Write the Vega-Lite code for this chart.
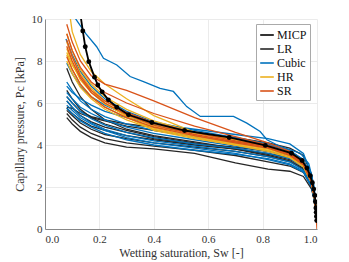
{
  "$schema": "https://vega.github.io/schema/vega-lite/v6.json",
  "autosize": {"type": "none"},
  "width": 272,
  "height": 210,
  "padding": {"left": 45, "top": 19, "right": 32, "bottom": 33},
  "background": "white",
  "config": {
    "view": {"stroke": null},
    "font": "Liberation Serif",
    "axis": {
      "labelFont": "Liberation Serif", "titleFont": "Liberation Serif",
      "labelFontSize": 11, "titleFontSize": 12, "titleFontWeight": "normal",
      "labelColor": "#333333", "titleColor": "#333333",
      "domainColor": "#888888", "gridColor": "#ebebeb", "ticks": false
    },
    "legend": {
      "labelFont": "Liberation Serif", "labelFontSize": 12, "labelColor": "#111111",
      "symbolType": "stroke", "symbolStrokeWidth": 1.6, "symbolSize": 185, "labelOffset": 2,
      "fillColor": "white", "strokeColor": "#aaaaaa", "padding": 3, "rowPadding": 0,
      "orient": "none", "legendX": 211, "legendY": 5, "title": null
    }
  },
  "data": {"values": [
    {"model":"LR","run":"L1","sw":0.08,"pc":7.65},{"model":"LR","run":"L1","sw":0.1,"pc":7.0},{"model":"LR","run":"L1","sw":0.13,"pc":6.3},{"model":"LR","run":"L1","sw":0.17,"pc":5.7},{"model":"LR","run":"L1","sw":0.22,"pc":5.2},{"model":"LR","run":"L1","sw":0.3,"pc":4.75},{"model":"LR","run":"L1","sw":0.4,"pc":4.45},{"model":"LR","run":"L1","sw":0.55,"pc":4.15},{"model":"LR","run":"L1","sw":0.7,"pc":3.85},{"model":"LR","run":"L1","sw":0.82,"pc":3.55},{"model":"LR","run":"L1","sw":0.9,"pc":3.3},{"model":"LR","run":"L1","sw":0.95,"pc":3.0},{"model":"LR","run":"L1","sw":0.98,"pc":2.3},{"model":"LR","run":"L1","sw":0.993,"pc":1.4},{"model":"LR","run":"L1","sw":1.0,"pc":0.4},
    {"model":"LR","run":"L2","sw":0.08,"pc":6.6},{"model":"LR","run":"L2","sw":0.1,"pc":6.2},{"model":"LR","run":"L2","sw":0.13,"pc":5.7},{"model":"LR","run":"L2","sw":0.17,"pc":5.3},{"model":"LR","run":"L2","sw":0.22,"pc":5.0},{"model":"LR","run":"L2","sw":0.3,"pc":4.7},{"model":"LR","run":"L2","sw":0.4,"pc":4.4},{"model":"LR","run":"L2","sw":0.55,"pc":4.1},{"model":"LR","run":"L2","sw":0.7,"pc":3.8},{"model":"LR","run":"L2","sw":0.82,"pc":3.5},{"model":"LR","run":"L2","sw":0.9,"pc":3.25},{"model":"LR","run":"L2","sw":0.95,"pc":2.9},{"model":"LR","run":"L2","sw":0.98,"pc":2.2},{"model":"LR","run":"L2","sw":0.993,"pc":1.3},{"model":"LR","run":"L2","sw":1.0,"pc":0.4},
    {"model":"LR","run":"L3","sw":0.08,"pc":6.1},{"model":"LR","run":"L3","sw":0.1,"pc":5.8},{"model":"LR","run":"L3","sw":0.13,"pc":5.4},{"model":"LR","run":"L3","sw":0.17,"pc":5.1},{"model":"LR","run":"L3","sw":0.22,"pc":4.85},{"model":"LR","run":"L3","sw":0.3,"pc":4.6},{"model":"LR","run":"L3","sw":0.4,"pc":4.3},{"model":"LR","run":"L3","sw":0.55,"pc":4.05},{"model":"LR","run":"L3","sw":0.7,"pc":3.9},{"model":"LR","run":"L3","sw":0.82,"pc":3.7},{"model":"LR","run":"L3","sw":0.9,"pc":3.5},{"model":"LR","run":"L3","sw":0.95,"pc":3.1},{"model":"LR","run":"L3","sw":0.98,"pc":2.3},{"model":"LR","run":"L3","sw":0.993,"pc":1.4},{"model":"LR","run":"L3","sw":1.0,"pc":0.4},
    {"model":"LR","run":"L4","sw":0.08,"pc":5.8},{"model":"LR","run":"L4","sw":0.1,"pc":5.75},{"model":"LR","run":"L4","sw":0.13,"pc":5.5},{"model":"LR","run":"L4","sw":0.17,"pc":5.3},{"model":"LR","run":"L4","sw":0.22,"pc":5.15},{"model":"LR","run":"L4","sw":0.3,"pc":4.9},{"model":"LR","run":"L4","sw":0.4,"pc":4.7},{"model":"LR","run":"L4","sw":0.55,"pc":4.4},{"model":"LR","run":"L4","sw":0.7,"pc":4.15},{"model":"LR","run":"L4","sw":0.82,"pc":3.95},{"model":"LR","run":"L4","sw":0.9,"pc":3.7},{"model":"LR","run":"L4","sw":0.95,"pc":3.3},{"model":"LR","run":"L4","sw":0.98,"pc":2.4},{"model":"LR","run":"L4","sw":0.993,"pc":1.5},{"model":"LR","run":"L4","sw":1.0,"pc":0.4},
    {"model":"LR","run":"L5","sw":0.08,"pc":5.65},{"model":"LR","run":"L5","sw":0.1,"pc":5.4},{"model":"LR","run":"L5","sw":0.13,"pc":5.05},{"model":"LR","run":"L5","sw":0.17,"pc":4.75},{"model":"LR","run":"L5","sw":0.22,"pc":4.5},{"model":"LR","run":"L5","sw":0.3,"pc":4.3},{"model":"LR","run":"L5","sw":0.4,"pc":4.1},{"model":"LR","run":"L5","sw":0.55,"pc":3.9},{"model":"LR","run":"L5","sw":0.7,"pc":3.7},{"model":"LR","run":"L5","sw":0.82,"pc":3.45},{"model":"LR","run":"L5","sw":0.9,"pc":3.2},{"model":"LR","run":"L5","sw":0.95,"pc":2.85},{"model":"LR","run":"L5","sw":0.98,"pc":2.1},{"model":"LR","run":"L5","sw":0.993,"pc":1.3},{"model":"LR","run":"L5","sw":1.0,"pc":0.4},
    {"model":"LR","run":"L6","sw":0.08,"pc":5.5},{"model":"LR","run":"L6","sw":0.1,"pc":5.2},{"model":"LR","run":"L6","sw":0.13,"pc":4.85},{"model":"LR","run":"L6","sw":0.17,"pc":4.55},{"model":"LR","run":"L6","sw":0.22,"pc":4.3},{"model":"LR","run":"L6","sw":0.3,"pc":4.1},{"model":"LR","run":"L6","sw":0.4,"pc":3.95},{"model":"LR","run":"L6","sw":0.55,"pc":3.75},{"model":"LR","run":"L6","sw":0.7,"pc":3.5},{"model":"LR","run":"L6","sw":0.82,"pc":3.2},{"model":"LR","run":"L6","sw":0.9,"pc":3.0},{"model":"LR","run":"L6","sw":0.95,"pc":2.7},{"model":"LR","run":"L6","sw":0.98,"pc":2.0},{"model":"LR","run":"L6","sw":0.993,"pc":1.2},{"model":"LR","run":"L6","sw":1.0,"pc":0.4},
    {"model":"LR","run":"L7","sw":0.08,"pc":5.3},{"model":"LR","run":"L7","sw":0.1,"pc":5.0},{"model":"LR","run":"L7","sw":0.13,"pc":4.65},{"model":"LR","run":"L7","sw":0.17,"pc":4.35},{"model":"LR","run":"L7","sw":0.22,"pc":4.1},{"model":"LR","run":"L7","sw":0.3,"pc":3.9},{"model":"LR","run":"L7","sw":0.4,"pc":3.82},{"model":"LR","run":"L7","sw":0.55,"pc":3.6},{"model":"LR","run":"L7","sw":0.7,"pc":3.15},{"model":"LR","run":"L7","sw":0.82,"pc":2.85},{"model":"LR","run":"L7","sw":0.9,"pc":2.75},{"model":"LR","run":"L7","sw":0.95,"pc":2.5},{"model":"LR","run":"L7","sw":0.98,"pc":1.9},{"model":"LR","run":"L7","sw":0.993,"pc":1.2},{"model":"LR","run":"L7","sw":1.0,"pc":0.4},
    {"model":"LR","run":"L8","sw":0.08,"pc":5.75},{"model":"LR","run":"L8","sw":0.1,"pc":5.5},{"model":"LR","run":"L8","sw":0.13,"pc":5.2},{"model":"LR","run":"L8","sw":0.17,"pc":4.9},{"model":"LR","run":"L8","sw":0.22,"pc":4.7},{"model":"LR","run":"L8","sw":0.3,"pc":4.45},{"model":"LR","run":"L8","sw":0.4,"pc":4.25},{"model":"LR","run":"L8","sw":0.55,"pc":4.0},{"model":"LR","run":"L8","sw":0.7,"pc":3.8},{"model":"LR","run":"L8","sw":0.82,"pc":3.6},{"model":"LR","run":"L8","sw":0.9,"pc":3.4},{"model":"LR","run":"L8","sw":0.95,"pc":3.05},{"model":"LR","run":"L8","sw":0.98,"pc":2.25},{"model":"LR","run":"L8","sw":0.993,"pc":1.4},{"model":"LR","run":"L8","sw":1.0,"pc":0.4},
    {"model":"LR","run":"L9","sw":0.08,"pc":6.3},{"model":"LR","run":"L9","sw":0.1,"pc":6.0},{"model":"LR","run":"L9","sw":0.13,"pc":5.6},{"model":"LR","run":"L9","sw":0.17,"pc":5.35},{"model":"LR","run":"L9","sw":0.22,"pc":5.2},{"model":"LR","run":"L9","sw":0.3,"pc":5.0},{"model":"LR","run":"L9","sw":0.4,"pc":4.85},{"model":"LR","run":"L9","sw":0.55,"pc":4.6},{"model":"LR","run":"L9","sw":0.7,"pc":4.35},{"model":"LR","run":"L9","sw":0.82,"pc":4.1},{"model":"LR","run":"L9","sw":0.9,"pc":3.85},{"model":"LR","run":"L9","sw":0.95,"pc":3.5},{"model":"LR","run":"L9","sw":0.98,"pc":2.6},{"model":"LR","run":"L9","sw":0.993,"pc":1.5},{"model":"LR","run":"L9","sw":1.0,"pc":0.4},
    {"model":"Cubic","run":"C1","sw":0.105,"pc":10.6},{"model":"Cubic","run":"C1","sw":0.113,"pc":10.0},{"model":"Cubic","run":"C1","sw":0.15,"pc":9.3},{"model":"Cubic","run":"C1","sw":0.19,"pc":8.68},{"model":"Cubic","run":"C1","sw":0.215,"pc":8.13},{"model":"Cubic","run":"C1","sw":0.264,"pc":7.81},{"model":"Cubic","run":"C1","sw":0.313,"pc":7.26},{"model":"Cubic","run":"C1","sw":0.362,"pc":7.02},{"model":"Cubic","run":"C1","sw":0.423,"pc":6.7},{"model":"Cubic","run":"C1","sw":0.472,"pc":6.55},{"model":"Cubic","run":"C1","sw":0.521,"pc":5.83},{"model":"Cubic","run":"C1","sw":0.571,"pc":5.36},{"model":"Cubic","run":"C1","sw":0.693,"pc":5.36},{"model":"Cubic","run":"C1","sw":0.742,"pc":5.04},{"model":"Cubic","run":"C1","sw":0.791,"pc":4.64},{"model":"Cubic","run":"C1","sw":0.816,"pc":4.25},{"model":"Cubic","run":"C1","sw":0.865,"pc":3.93},{"model":"Cubic","run":"C1","sw":0.939,"pc":3.61},{"model":"Cubic","run":"C1","sw":0.97,"pc":3.1},{"model":"Cubic","run":"C1","sw":0.99,"pc":2.0},{"model":"Cubic","run":"C1","sw":1.0,"pc":0.4},
    {"model":"Cubic","run":"C2","sw":0.077,"pc":9.05},{"model":"Cubic","run":"C2","sw":0.1,"pc":8.3},{"model":"Cubic","run":"C2","sw":0.13,"pc":7.5},{"model":"Cubic","run":"C2","sw":0.17,"pc":6.8},{"model":"Cubic","run":"C2","sw":0.22,"pc":6.2},{"model":"Cubic","run":"C2","sw":0.3,"pc":5.6},{"model":"Cubic","run":"C2","sw":0.4,"pc":5.1},{"model":"Cubic","run":"C2","sw":0.55,"pc":4.7},{"model":"Cubic","run":"C2","sw":0.7,"pc":4.35},{"model":"Cubic","run":"C2","sw":0.82,"pc":4.05},{"model":"Cubic","run":"C2","sw":0.9,"pc":3.75},{"model":"Cubic","run":"C2","sw":0.95,"pc":3.3},{"model":"Cubic","run":"C2","sw":0.98,"pc":2.4},{"model":"Cubic","run":"C2","sw":0.993,"pc":1.4},{"model":"Cubic","run":"C2","sw":1.0,"pc":0.4},
    {"model":"Cubic","run":"C3","sw":0.08,"pc":7.9},{"model":"Cubic","run":"C3","sw":0.1,"pc":7.4},{"model":"Cubic","run":"C3","sw":0.13,"pc":6.8},{"model":"Cubic","run":"C3","sw":0.17,"pc":6.3},{"model":"Cubic","run":"C3","sw":0.22,"pc":5.9},{"model":"Cubic","run":"C3","sw":0.3,"pc":5.45},{"model":"Cubic","run":"C3","sw":0.4,"pc":5.0},{"model":"Cubic","run":"C3","sw":0.55,"pc":4.6},{"model":"Cubic","run":"C3","sw":0.7,"pc":4.3},{"model":"Cubic","run":"C3","sw":0.82,"pc":4.0},{"model":"Cubic","run":"C3","sw":0.9,"pc":3.7},{"model":"Cubic","run":"C3","sw":0.95,"pc":3.25},{"model":"Cubic","run":"C3","sw":0.98,"pc":2.35},{"model":"Cubic","run":"C3","sw":0.993,"pc":1.4},{"model":"Cubic","run":"C3","sw":1.0,"pc":0.4},
    {"model":"Cubic","run":"C4","sw":0.08,"pc":7.0},{"model":"Cubic","run":"C4","sw":0.1,"pc":6.6},{"model":"Cubic","run":"C4","sw":0.13,"pc":6.1},{"model":"Cubic","run":"C4","sw":0.17,"pc":5.7},{"model":"Cubic","run":"C4","sw":0.22,"pc":5.35},{"model":"Cubic","run":"C4","sw":0.3,"pc":5.0},{"model":"Cubic","run":"C4","sw":0.4,"pc":4.7},{"model":"Cubic","run":"C4","sw":0.55,"pc":4.4},{"model":"Cubic","run":"C4","sw":0.7,"pc":4.1},{"model":"Cubic","run":"C4","sw":0.82,"pc":3.85},{"model":"Cubic","run":"C4","sw":0.9,"pc":3.55},{"model":"Cubic","run":"C4","sw":0.95,"pc":3.1},{"model":"Cubic","run":"C4","sw":0.98,"pc":2.3},{"model":"Cubic","run":"C4","sw":0.993,"pc":1.4},{"model":"Cubic","run":"C4","sw":1.0,"pc":0.4},
    {"model":"Cubic","run":"C5","sw":0.08,"pc":6.5},{"model":"Cubic","run":"C5","sw":0.1,"pc":6.2},{"model":"Cubic","run":"C5","sw":0.13,"pc":5.8},{"model":"Cubic","run":"C5","sw":0.17,"pc":5.5},{"model":"Cubic","run":"C5","sw":0.22,"pc":5.2},{"model":"Cubic","run":"C5","sw":0.3,"pc":4.85},{"model":"Cubic","run":"C5","sw":0.4,"pc":4.55},{"model":"Cubic","run":"C5","sw":0.55,"pc":4.25},{"model":"Cubic","run":"C5","sw":0.7,"pc":3.95},{"model":"Cubic","run":"C5","sw":0.82,"pc":3.7},{"model":"Cubic","run":"C5","sw":0.9,"pc":3.45},{"model":"Cubic","run":"C5","sw":0.95,"pc":3.0},{"model":"Cubic","run":"C5","sw":0.98,"pc":2.2},{"model":"Cubic","run":"C5","sw":0.993,"pc":1.3},{"model":"Cubic","run":"C5","sw":1.0,"pc":0.4},
    {"model":"Cubic","run":"C6","sw":0.08,"pc":6.1},{"model":"Cubic","run":"C6","sw":0.1,"pc":5.8},{"model":"Cubic","run":"C6","sw":0.13,"pc":5.4},{"model":"Cubic","run":"C6","sw":0.17,"pc":5.05},{"model":"Cubic","run":"C6","sw":0.22,"pc":4.75},{"model":"Cubic","run":"C6","sw":0.3,"pc":4.45},{"model":"Cubic","run":"C6","sw":0.4,"pc":4.2},{"model":"Cubic","run":"C6","sw":0.55,"pc":3.95},{"model":"Cubic","run":"C6","sw":0.7,"pc":3.7},{"model":"Cubic","run":"C6","sw":0.82,"pc":3.45},{"model":"Cubic","run":"C6","sw":0.9,"pc":3.2},{"model":"Cubic","run":"C6","sw":0.95,"pc":2.8},{"model":"Cubic","run":"C6","sw":0.98,"pc":2.1},{"model":"Cubic","run":"C6","sw":0.993,"pc":1.3},{"model":"Cubic","run":"C6","sw":1.0,"pc":0.4},
    {"model":"Cubic","run":"C7","sw":0.08,"pc":5.75},{"model":"Cubic","run":"C7","sw":0.1,"pc":5.5},{"model":"Cubic","run":"C7","sw":0.13,"pc":5.15},{"model":"Cubic","run":"C7","sw":0.17,"pc":4.85},{"model":"Cubic","run":"C7","sw":0.22,"pc":4.55},{"model":"Cubic","run":"C7","sw":0.3,"pc":4.25},{"model":"Cubic","run":"C7","sw":0.4,"pc":4.0},{"model":"Cubic","run":"C7","sw":0.55,"pc":3.75},{"model":"Cubic","run":"C7","sw":0.7,"pc":3.55},{"model":"Cubic","run":"C7","sw":0.82,"pc":3.35},{"model":"Cubic","run":"C7","sw":0.9,"pc":3.1},{"model":"Cubic","run":"C7","sw":0.95,"pc":2.75},{"model":"Cubic","run":"C7","sw":0.98,"pc":2.0},{"model":"Cubic","run":"C7","sw":0.993,"pc":1.2},{"model":"Cubic","run":"C7","sw":1.0,"pc":0.4},
    {"model":"Cubic","run":"C8","sw":0.08,"pc":6.8},{"model":"Cubic","run":"C8","sw":0.1,"pc":6.5},{"model":"Cubic","run":"C8","sw":0.13,"pc":6.2},{"model":"Cubic","run":"C8","sw":0.17,"pc":5.9},{"model":"Cubic","run":"C8","sw":0.22,"pc":5.6},{"model":"Cubic","run":"C8","sw":0.3,"pc":5.3},{"model":"Cubic","run":"C8","sw":0.4,"pc":5.0},{"model":"Cubic","run":"C8","sw":0.55,"pc":4.75},{"model":"Cubic","run":"C8","sw":0.7,"pc":4.5},{"model":"Cubic","run":"C8","sw":0.82,"pc":4.3},{"model":"Cubic","run":"C8","sw":0.9,"pc":4.05},{"model":"Cubic","run":"C8","sw":0.95,"pc":3.6},{"model":"Cubic","run":"C8","sw":0.98,"pc":2.6},{"model":"Cubic","run":"C8","sw":0.993,"pc":1.5},{"model":"Cubic","run":"C8","sw":1.0,"pc":0.4},
    {"model":"Cubic","run":"C9","sw":0.08,"pc":6.3},{"model":"Cubic","run":"C9","sw":0.1,"pc":6.0},{"model":"Cubic","run":"C9","sw":0.13,"pc":5.6},{"model":"Cubic","run":"C9","sw":0.17,"pc":5.25},{"model":"Cubic","run":"C9","sw":0.22,"pc":4.95},{"model":"Cubic","run":"C9","sw":0.3,"pc":4.6},{"model":"Cubic","run":"C9","sw":0.4,"pc":4.35},{"model":"Cubic","run":"C9","sw":0.55,"pc":4.05},{"model":"Cubic","run":"C9","sw":0.7,"pc":3.85},{"model":"Cubic","run":"C9","sw":0.82,"pc":3.6},{"model":"Cubic","run":"C9","sw":0.9,"pc":3.35},{"model":"Cubic","run":"C9","sw":0.95,"pc":2.95},{"model":"Cubic","run":"C9","sw":0.98,"pc":2.15},{"model":"Cubic","run":"C9","sw":0.993,"pc":1.3},{"model":"Cubic","run":"C9","sw":1.0,"pc":0.4},
    {"model":"Cubic","run":"C10","sw":0.08,"pc":5.9},{"model":"Cubic","run":"C10","sw":0.1,"pc":5.65},{"model":"Cubic","run":"C10","sw":0.13,"pc":5.3},{"model":"Cubic","run":"C10","sw":0.17,"pc":5.0},{"model":"Cubic","run":"C10","sw":0.22,"pc":4.7},{"model":"Cubic","run":"C10","sw":0.3,"pc":4.35},{"model":"Cubic","run":"C10","sw":0.4,"pc":4.1},{"model":"Cubic","run":"C10","sw":0.55,"pc":3.85},{"model":"Cubic","run":"C10","sw":0.7,"pc":3.6},{"model":"Cubic","run":"C10","sw":0.82,"pc":3.3},{"model":"Cubic","run":"C10","sw":0.9,"pc":3.05},{"model":"Cubic","run":"C10","sw":0.95,"pc":2.7},{"model":"Cubic","run":"C10","sw":0.98,"pc":2.0},{"model":"Cubic","run":"C10","sw":0.993,"pc":1.2},{"model":"Cubic","run":"C10","sw":1.0,"pc":0.4},
    {"model":"HR","run":"H1","sw":0.088,"pc":10.5},{"model":"HR","run":"H1","sw":0.1,"pc":9.4},{"model":"HR","run":"H1","sw":0.13,"pc":8.3},{"model":"HR","run":"H1","sw":0.17,"pc":7.5},{"model":"HR","run":"H1","sw":0.22,"pc":6.9},{"model":"HR","run":"H1","sw":0.3,"pc":6.2},{"model":"HR","run":"H1","sw":0.4,"pc":5.4},{"model":"HR","run":"H1","sw":0.55,"pc":4.6},{"model":"HR","run":"H1","sw":0.7,"pc":4.2},{"model":"HR","run":"H1","sw":0.82,"pc":3.9},{"model":"HR","run":"H1","sw":0.9,"pc":3.5},{"model":"HR","run":"H1","sw":0.95,"pc":3.0},{"model":"HR","run":"H1","sw":0.98,"pc":2.2},{"model":"HR","run":"H1","sw":0.993,"pc":1.4},{"model":"HR","run":"H1","sw":1.0,"pc":0.4},
    {"model":"HR","run":"H2","sw":0.08,"pc":8.9},{"model":"HR","run":"H2","sw":0.1,"pc":8.2},{"model":"HR","run":"H2","sw":0.13,"pc":7.4},{"model":"HR","run":"H2","sw":0.17,"pc":6.7},{"model":"HR","run":"H2","sw":0.22,"pc":6.1},{"model":"HR","run":"H2","sw":0.3,"pc":5.5},{"model":"HR","run":"H2","sw":0.4,"pc":5.0},{"model":"HR","run":"H2","sw":0.55,"pc":4.55},{"model":"HR","run":"H2","sw":0.7,"pc":4.2},{"model":"HR","run":"H2","sw":0.82,"pc":3.9},{"model":"HR","run":"H2","sw":0.9,"pc":3.6},{"model":"HR","run":"H2","sw":0.95,"pc":3.15},{"model":"HR","run":"H2","sw":0.98,"pc":2.3},{"model":"HR","run":"H2","sw":0.993,"pc":1.4},{"model":"HR","run":"H2","sw":1.0,"pc":0.4},
    {"model":"HR","run":"H3","sw":0.08,"pc":8.6},{"model":"HR","run":"H3","sw":0.1,"pc":7.9},{"model":"HR","run":"H3","sw":0.13,"pc":7.1},{"model":"HR","run":"H3","sw":0.17,"pc":6.5},{"model":"HR","run":"H3","sw":0.22,"pc":5.95},{"model":"HR","run":"H3","sw":0.3,"pc":5.4},{"model":"HR","run":"H3","sw":0.4,"pc":4.9},{"model":"HR","run":"H3","sw":0.55,"pc":4.45},{"model":"HR","run":"H3","sw":0.7,"pc":4.1},{"model":"HR","run":"H3","sw":0.82,"pc":3.85},{"model":"HR","run":"H3","sw":0.9,"pc":3.55},{"model":"HR","run":"H3","sw":0.95,"pc":3.1},{"model":"HR","run":"H3","sw":0.98,"pc":2.3},{"model":"HR","run":"H3","sw":0.993,"pc":1.4},{"model":"HR","run":"H3","sw":1.0,"pc":0.4},
    {"model":"HR","run":"H4","sw":0.08,"pc":8.3},{"model":"HR","run":"H4","sw":0.1,"pc":7.6},{"model":"HR","run":"H4","sw":0.13,"pc":6.9},{"model":"HR","run":"H4","sw":0.17,"pc":6.3},{"model":"HR","run":"H4","sw":0.22,"pc":5.8},{"model":"HR","run":"H4","sw":0.3,"pc":5.3},{"model":"HR","run":"H4","sw":0.4,"pc":4.8},{"model":"HR","run":"H4","sw":0.55,"pc":4.4},{"model":"HR","run":"H4","sw":0.7,"pc":4.05},{"model":"HR","run":"H4","sw":0.82,"pc":3.8},{"model":"HR","run":"H4","sw":0.9,"pc":3.5},{"model":"HR","run":"H4","sw":0.95,"pc":3.05},{"model":"HR","run":"H4","sw":0.98,"pc":2.25},{"model":"HR","run":"H4","sw":0.993,"pc":1.3},{"model":"HR","run":"H4","sw":1.0,"pc":0.4},
    {"model":"HR","run":"H5","sw":0.08,"pc":8.0},{"model":"HR","run":"H5","sw":0.1,"pc":7.4},{"model":"HR","run":"H5","sw":0.13,"pc":6.75},{"model":"HR","run":"H5","sw":0.17,"pc":6.2},{"model":"HR","run":"H5","sw":0.22,"pc":5.7},{"model":"HR","run":"H5","sw":0.3,"pc":5.2},{"model":"HR","run":"H5","sw":0.4,"pc":4.75},{"model":"HR","run":"H5","sw":0.55,"pc":4.35},{"model":"HR","run":"H5","sw":0.7,"pc":4.0},{"model":"HR","run":"H5","sw":0.82,"pc":3.75},{"model":"HR","run":"H5","sw":0.9,"pc":3.45},{"model":"HR","run":"H5","sw":0.95,"pc":3.0},{"model":"HR","run":"H5","sw":0.98,"pc":2.2},{"model":"HR","run":"H5","sw":0.993,"pc":1.3},{"model":"HR","run":"H5","sw":1.0,"pc":0.4},
    {"model":"HR","run":"H6","sw":0.08,"pc":9.3},{"model":"HR","run":"H6","sw":0.1,"pc":8.5},{"model":"HR","run":"H6","sw":0.13,"pc":7.6},{"model":"HR","run":"H6","sw":0.17,"pc":6.9},{"model":"HR","run":"H6","sw":0.22,"pc":6.3},{"model":"HR","run":"H6","sw":0.3,"pc":5.7},{"model":"HR","run":"H6","sw":0.4,"pc":5.15},{"model":"HR","run":"H6","sw":0.55,"pc":4.6},{"model":"HR","run":"H6","sw":0.7,"pc":4.25},{"model":"HR","run":"H6","sw":0.82,"pc":3.95},{"model":"HR","run":"H6","sw":0.9,"pc":3.65},{"model":"HR","run":"H6","sw":0.95,"pc":3.2},{"model":"HR","run":"H6","sw":0.98,"pc":2.35},{"model":"HR","run":"H6","sw":0.993,"pc":1.4},{"model":"HR","run":"H6","sw":1.0,"pc":0.4},
    {"model":"HR","run":"H7","sw":0.08,"pc":8.4},{"model":"HR","run":"H7","sw":0.1,"pc":7.8},{"model":"HR","run":"H7","sw":0.13,"pc":7.2},{"model":"HR","run":"H7","sw":0.17,"pc":6.6},{"model":"HR","run":"H7","sw":0.22,"pc":6.0},{"model":"HR","run":"H7","sw":0.3,"pc":5.35},{"model":"HR","run":"H7","sw":0.4,"pc":4.7},{"model":"HR","run":"H7","sw":0.55,"pc":4.3},{"model":"HR","run":"H7","sw":0.7,"pc":4.0},{"model":"HR","run":"H7","sw":0.82,"pc":3.7},{"model":"HR","run":"H7","sw":0.9,"pc":3.4},{"model":"HR","run":"H7","sw":0.95,"pc":2.95},{"model":"HR","run":"H7","sw":0.98,"pc":2.2},{"model":"HR","run":"H7","sw":0.993,"pc":1.3},{"model":"HR","run":"H7","sw":1.0,"pc":0.4},
    {"model":"SR","run":"S1","sw":0.08,"pc":9.75},{"model":"SR","run":"S1","sw":0.1,"pc":8.9},{"model":"SR","run":"S1","sw":0.13,"pc":8.0},{"model":"SR","run":"S1","sw":0.17,"pc":7.3},{"model":"SR","run":"S1","sw":0.22,"pc":6.9},{"model":"SR","run":"S1","sw":0.3,"pc":6.6},{"model":"SR","run":"S1","sw":0.4,"pc":6.1},{"model":"SR","run":"S1","sw":0.55,"pc":5.3},{"model":"SR","run":"S1","sw":0.7,"pc":4.6},{"model":"SR","run":"S1","sw":0.82,"pc":4.1},{"model":"SR","run":"S1","sw":0.9,"pc":3.7},{"model":"SR","run":"S1","sw":0.95,"pc":3.2},{"model":"SR","run":"S1","sw":0.98,"pc":2.3},{"model":"SR","run":"S1","sw":0.993,"pc":1.4},{"model":"SR","run":"S1","sw":1.0,"pc":0.4},
    {"model":"SR","run":"S2","sw":0.08,"pc":9.3},{"model":"SR","run":"S2","sw":0.1,"pc":8.5},{"model":"SR","run":"S2","sw":0.13,"pc":7.7},{"model":"SR","run":"S2","sw":0.17,"pc":7.0},{"model":"SR","run":"S2","sw":0.22,"pc":6.5},{"model":"SR","run":"S2","sw":0.3,"pc":6.0},{"model":"SR","run":"S2","sw":0.4,"pc":5.5},{"model":"SR","run":"S2","sw":0.55,"pc":4.9},{"model":"SR","run":"S2","sw":0.7,"pc":4.4},{"model":"SR","run":"S2","sw":0.82,"pc":4.0},{"model":"SR","run":"S2","sw":0.9,"pc":3.6},{"model":"SR","run":"S2","sw":0.95,"pc":3.1},{"model":"SR","run":"S2","sw":0.98,"pc":2.3},{"model":"SR","run":"S2","sw":0.993,"pc":1.4},{"model":"SR","run":"S2","sw":1.0,"pc":0.4},
    {"model":"SR","run":"S3","sw":0.08,"pc":8.7},{"model":"SR","run":"S3","sw":0.1,"pc":8.0},{"model":"SR","run":"S3","sw":0.13,"pc":7.2},{"model":"SR","run":"S3","sw":0.17,"pc":6.5},{"model":"SR","run":"S3","sw":0.22,"pc":6.0},{"model":"SR","run":"S3","sw":0.3,"pc":5.45},{"model":"SR","run":"S3","sw":0.4,"pc":4.95},{"model":"SR","run":"S3","sw":0.55,"pc":4.5},{"model":"SR","run":"S3","sw":0.7,"pc":4.15},{"model":"SR","run":"S3","sw":0.82,"pc":3.9},{"model":"SR","run":"S3","sw":0.9,"pc":3.55},{"model":"SR","run":"S3","sw":0.95,"pc":3.1},{"model":"SR","run":"S3","sw":0.98,"pc":2.25},{"model":"SR","run":"S3","sw":0.993,"pc":1.3},{"model":"SR","run":"S3","sw":1.0,"pc":0.4},
    {"model":"SR","run":"S4","sw":0.08,"pc":8.2},{"model":"SR","run":"S4","sw":0.1,"pc":7.6},{"model":"SR","run":"S4","sw":0.13,"pc":6.9},{"model":"SR","run":"S4","sw":0.17,"pc":6.3},{"model":"SR","run":"S4","sw":0.22,"pc":5.8},{"model":"SR","run":"S4","sw":0.3,"pc":5.3},{"model":"SR","run":"S4","sw":0.4,"pc":4.85},{"model":"SR","run":"S4","sw":0.55,"pc":4.45},{"model":"SR","run":"S4","sw":0.7,"pc":4.1},{"model":"SR","run":"S4","sw":0.82,"pc":3.85},{"model":"SR","run":"S4","sw":0.9,"pc":3.5},{"model":"SR","run":"S4","sw":0.95,"pc":3.05},{"model":"SR","run":"S4","sw":0.98,"pc":2.2},{"model":"SR","run":"S4","sw":0.993,"pc":1.3},{"model":"SR","run":"S4","sw":1.0,"pc":0.4},
    {"model":"SR","run":"S5","sw":0.08,"pc":9.0},{"model":"SR","run":"S5","sw":0.1,"pc":8.2},{"model":"SR","run":"S5","sw":0.13,"pc":7.3},{"model":"SR","run":"S5","sw":0.17,"pc":6.6},{"model":"SR","run":"S5","sw":0.22,"pc":6.1},{"model":"SR","run":"S5","sw":0.3,"pc":5.55},{"model":"SR","run":"S5","sw":0.4,"pc":5.05},{"model":"SR","run":"S5","sw":0.55,"pc":4.6},{"model":"SR","run":"S5","sw":0.7,"pc":4.2},{"model":"SR","run":"S5","sw":0.82,"pc":3.95},{"model":"SR","run":"S5","sw":0.9,"pc":3.6},{"model":"SR","run":"S5","sw":0.95,"pc":3.15},{"model":"SR","run":"S5","sw":0.98,"pc":2.3},{"model":"SR","run":"S5","sw":0.993,"pc":1.3},{"model":"SR","run":"S5","sw":1.0,"pc":0.0},
    {"model":"MICP","run":"M","sw":0.127,"pc":10.5},{"model":"MICP","run":"M","sw":0.139,"pc":9.43},{"model":"MICP","run":"M","sw":0.148,"pc":8.68},{"model":"MICP","run":"M","sw":0.161,"pc":7.97},{"model":"MICP","run":"M","sw":0.182,"pc":7.23},{"model":"MICP","run":"M","sw":0.194,"pc":6.86},{"model":"MICP","run":"M","sw":0.21,"pc":6.53},{"model":"MICP","run":"M","sw":0.233,"pc":6.15},{"model":"MICP","run":"M","sw":0.264,"pc":5.8},{"model":"MICP","run":"M","sw":0.307,"pc":5.44},{"model":"MICP","run":"M","sw":0.393,"pc":5.07},{"model":"MICP","run":"M","sw":0.513,"pc":4.69},{"model":"MICP","run":"M","sw":0.677,"pc":4.36},{"model":"MICP","run":"M","sw":0.81,"pc":3.98},{"model":"MICP","run":"M","sw":0.906,"pc":3.61},{"model":"MICP","run":"M","sw":0.945,"pc":3.26},{"model":"MICP","run":"M","sw":0.963,"pc":2.9},{"model":"MICP","run":"M","sw":0.975,"pc":2.54},{"model":"MICP","run":"M","sw":0.983,"pc":2.2},{"model":"MICP","run":"M","sw":0.988,"pc":1.9},{"model":"MICP","run":"M","sw":0.992,"pc":1.6},{"model":"MICP","run":"M","sw":0.994,"pc":1.3},{"model":"MICP","run":"M","sw":0.996,"pc":1.0},{"model":"MICP","run":"M","sw":0.997,"pc":0.8},{"model":"MICP","run":"M","sw":0.998,"pc":0.6},{"model":"MICP","run":"M","sw":0.999,"pc":0.4}
  ]},
  "encoding": {
    "x": {"field": "sw", "type": "quantitative", "scale": {"domain": [0, 1], "nice": false},
      "axis": {"values": [0, 0.2, 0.4, 0.6, 0.8, 1], "format": ".1f", "title": "Wetting saturation, Sw [-]", "labelPadding": 4, "titlePadding": 3}},
    "y": {"field": "pc", "type": "quantitative", "scale": {"domain": [0, 10], "nice": false},
      "axis": {"values": [0, 2, 4, 6, 8, 10], "title": "Capillary pressure, Pc [kPa]", "labelPadding": 3, "titlePadding": 5}},
    "color": {"field": "model", "type": "nominal",
      "scale": {"domain": ["MICP", "LR", "Cubic", "HR", "SR"], "range": ["#000000", "#262626", "#0072BD", "#EDB120", "#D95319"]}},
    "detail": {"field": "run"}
  },
  "layer": [
    {"transform": [{"filter": "datum.model === 'LR'"}], "mark": {"type": "line", "clip": true, "strokeWidth": 1.3}},
    {"transform": [{"filter": "datum.model === 'Cubic'"}], "mark": {"type": "line", "clip": true, "strokeWidth": 1.3}},
    {"transform": [{"filter": "datum.model === 'HR'"}], "mark": {"type": "line", "clip": true, "strokeWidth": 1.3}},
    {"transform": [{"filter": "datum.model === 'SR'"}], "mark": {"type": "line", "clip": true, "strokeWidth": 1.3}},
    {"transform": [{"filter": "datum.model === 'MICP'"}], "mark": {"type": "line", "clip": true, "strokeWidth": 1.8}},
    {"transform": [{"filter": "datum.model === 'MICP'"}], "mark": {"type": "point", "clip": true, "filled": true, "opacity": 1, "size": 24}}
  ]
}
